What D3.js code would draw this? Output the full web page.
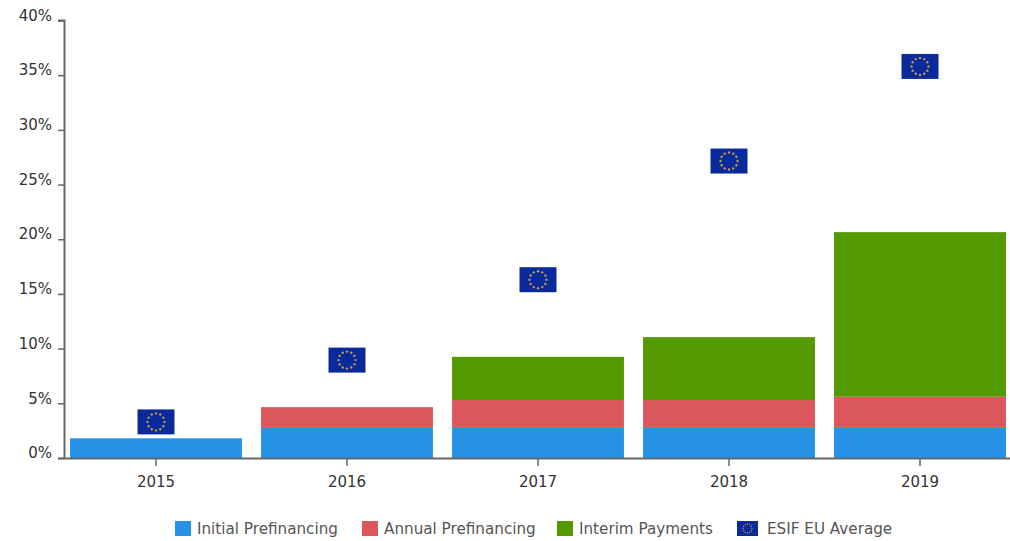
<!DOCTYPE html>
<html>
<head>
<meta charset="utf-8">
<script src="https://cdn.jsdelivr.net/npm/d3@7"></script>
<style>
  html, body { margin: 0; padding: 0; background: #fff; overflow: hidden; }
  svg { display: block; }
  text { font-family: "DejaVu Sans", sans-serif; }
</style>
</head>
<body>
<svg></svg>
<script>
const years = ['2015', '2016', '2017', '2018', '2019'];
const initialPrefinancing = [1.8, 2.75, 2.75, 2.75, 2.75];
const annualPrefinancing = [0, 1.9, 2.55, 2.55, 2.85];
const interimPayments = [0, 0, 3.95, 5.75, 15.05];
const euAverage = [3.3, 8.95, 16.3, 27.15, 35.8];
const yTicks = [0, 5, 10, 15, 20, 25, 30, 35, 40];
const seriesNames = ['Initial Prefinancing', 'Annual Prefinancing', 'Interim Payments', 'ESIF EU Average'];

const width = 1010;
const height = 541;
const colors = ['#2592e6', '#dc575c', '#559900'];
const flagBlue = '#0a2a9c';
const starColor = '#c49a45';
const axisColor = '#666';
const textColor = '#333';

const svg = d3.select('svg')
  .attr('width', width)
  .attr('height', height);

const x = d3.scaleBand()
  .domain(years)
  .range([60.5, 1015.5])
  .paddingInner(0.1)
  .paddingOuter(0.05);

const y = d3.scaleLinear()
  .domain([0, 40])
  .range([458, 20.5]);

// STACKED BARS
const rows = years.map((year, i) => ({
  year,
  initial: initialPrefinancing[i],
  annual: annualPrefinancing[i],
  interim: interimPayments[i]
}));
const stack = d3.stack().keys(['initial', 'annual', 'interim'])(rows);

svg.append('g')
  .selectAll('g')
  .data(stack)
  .enter().append('g')
  .attr('fill', (d, i) => colors[i])
  .selectAll('rect')
  .data(d => d)
  .enter().append('rect')
  .attr('x', d => x(d.data.year))
  .attr('width', x.bandwidth())
  .attr('y', d => y(d[1]))
  .attr('height', d => y(d[0]) - y(d[1]));

// AXES
const yAxis = d3.axisLeft(y)
  .tickValues(yTicks)
  .tickFormat(d => d + '%')
  .tickSize(6)
  .tickPadding(6);
const xAxis = d3.axisBottom(x)
  .tickSize(8)
  .tickPadding(10);

const yGroup = svg.append('g')
  .attr('transform', 'translate(64,0)')
  .call(yAxis);
const xGroup = svg.append('g')
  .attr('transform', 'translate(0,458)')
  .call(xAxis);

xGroup.select('.domain').attr('d', 'M58,0.5H1010');
yGroup.select('.domain').attr('d', 'M-6,20.5H0.5V458');

svg.selectAll('.domain')
  .attr('stroke', axisColor)
  .attr('stroke-width', 2)
  .attr('fill', 'none');
svg.selectAll('.tick line')
  .attr('stroke', axisColor)
  .attr('stroke-width', 1.5);
svg.selectAll('.tick text')
  .attr('fill', textColor)
  .attr('font-size', 15)
  .style('font-family', '"DejaVu Sans", sans-serif');
yGroup.selectAll('.tick text').attr('dx', 0).attr('dy', '-0.02em').attr('x', -12);

// EU FLAG MARKERS
function drawFlag(g, w, h, r, dot) {
  g.append('rect')
    .attr('x', -w / 2)
    .attr('y', -h / 2)
    .attr('width', w)
    .attr('height', h)
    .attr('fill', flagBlue);
  g.selectAll('circle')
    .data(d3.range(12))
    .enter().append('circle')
    .attr('cx', i => r * Math.cos(i * Math.PI / 6))
    .attr('cy', i => r * Math.sin(i * Math.PI / 6))
    .attr('r', dot)
    .attr('fill', starColor);
}

svg.append('g')
  .selectAll('g')
  .data(euAverage)
  .enter().append('g')
  .attr('transform', (d, i) => `translate(${x(years[i]) + x.bandwidth() / 2},${y(d)})`)
  .each(function () { drawFlag(d3.select(this), 37, 25, 8.5, 1.2); });

// LEGEND
const legendX = [175, 362, 557, 737];
const legend = svg.append('g')
  .selectAll('g')
  .data(seriesNames)
  .enter().append('g')
  .attr('transform', (d, i) => `translate(${legendX[i]},521)`);

legend.each(function (d, i) {
  const item = d3.select(this);
  if (i < 3) {
    item.append('rect')
      .attr('width', 16)
      .attr('height', 15)
      .attr('fill', colors[i]);
  } else {
    const flag = item.append('g').attr('transform', 'translate(10.5,7.5)');
    drawFlag(flag, 21, 15, 4.5, 0.7);
  }
  item.append('text')
    .attr('x', i < 3 ? 22 : 30)
    .attr('y', 13)
    .attr('font-size', 15.2)
    .attr('fill', '#555')
    .text(d);
});
</script>
</body>
</html>
